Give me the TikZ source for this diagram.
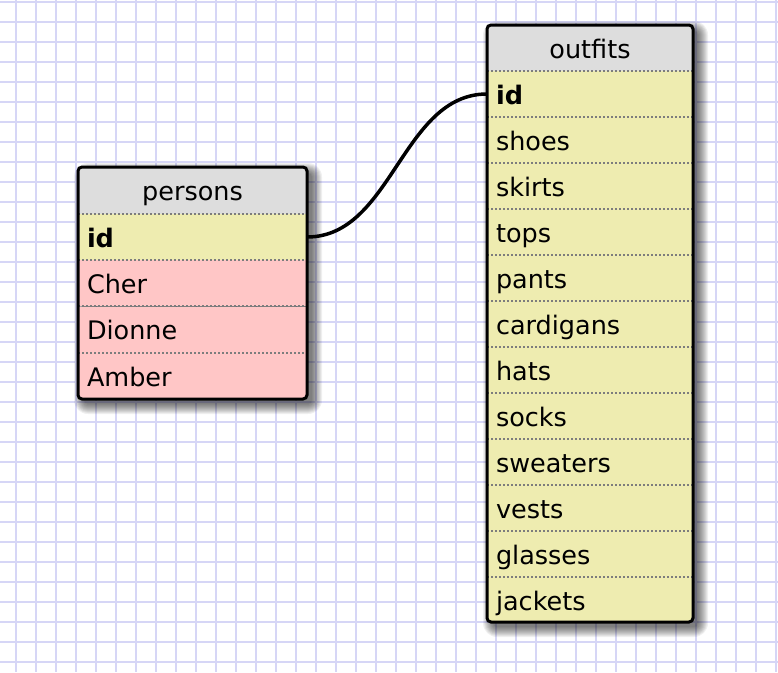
\documentclass[tikz,border=0pt]{standalone}
\usepackage{fontspec}
\setmainfont{DejaVu Sans}
\definecolor{gridc}{RGB}{214,214,246}
\definecolor{headc}{RGB}{221,221,221}
\definecolor{yel}{RGB}{238,236,176}
\definecolor{pinkc}{RGB}{255,198,198}
\definecolor{sepc}{RGB}{125,125,125}
\begin{document}
\begin{tikzpicture}[x=1pt,y=-1pt,
  gridline/.style={draw=gridc, line width=2pt},
  cell/.style={rectangle, inner xsep=9pt, inner ysep=0pt, outer sep=0pt,
    text height=22pt, text depth=2pt, minimum height=46pt,
    font=\fontsize{25.5}{29}\selectfont, anchor=north west},
  rowcell/.style={cell, align=left},
  headcell/.style={cell, align=center, fill=headc},
  sepline/.style={draw=sepc, line width=2pt, dash pattern=on 2pt off 2pt},
  border/.style={draw=black, line width=3pt, rounded corners=4pt},
  shadowlayer/.style={fill=black, opacity=0.06},
  link/.style={draw=black, line width=3.5pt}
]
\useasboundingbox (0,0) rectangle (778,672);
\fill[white] (0,0) rectangle (778,672);
\foreach \x in {15,35,...,775} \draw[gridline] (\x+1,0) -- (\x+1,672);
\foreach \y in {1,21,...,661} \draw[gridline] (0,\y+1) -- (778,\y+1);

% shadows
\foreach \k in {0,...,10} {
  \fill[shadowlayer, rounded corners=4+\k] (84-\k,173-\k) rectangle (312+\k,404+\k);
  \fill[shadowlayer, rounded corners=4+\k] (493-\k,31-\k) rectangle (698+\k,627+\k);
}

% persons table
\begin{scope}
\clip[rounded corners=4pt] (78,167) rectangle (307,399);
\node[headcell, text width=211pt, minimum height=47pt] (p-head) at (78,167) {persons};
\node[rowcell, text width=211pt, fill=yel] (p-id) at (78,214) {\textbf{id}};
\node[rowcell, text width=211pt, fill=pinkc] (p-cher) at (78,260.3) {Cher};
\node[rowcell, text width=211pt, fill=pinkc] (p-dionne) at (78,306.6) {Dionne};
\node[rowcell, text width=211pt, fill=pinkc, minimum height=48pt] (p-amber) at (78,352.9) {Amber};
\foreach \n in {p-head,p-id,p-cher,p-dionne}
  \draw[sepline] (\n.south west) -- (\n.south east);
\end{scope}
\draw[border] (p-head.north west) rectangle (307,399);

% outfits table
\begin{scope}
\clip[rounded corners=4pt] (487,25) rectangle (693,622);
\node[headcell, text width=188pt] (o-head) at (487,25) {outfits};
\node[rowcell, text width=188pt, fill=yel] (o-id) at (487,71) {\textbf{id}};
\foreach \t [count=\i] in {shoes,skirts,tops,pants,cardigans,hats,socks,sweaters,vests,glasses,jackets}
  \node[rowcell, text width=188pt, fill=yel] (o-\t) at (487,71+46*\i) {\t};
\foreach \n in {o-head,o-id,o-shoes,o-skirts,o-tops,o-pants,o-cardigans,o-hats,o-socks,o-sweaters,o-vests,o-glasses}
  \draw[sepline] (\n.south west) -- (\n.south east);
\end{scope}
\draw[border] (o-head.north west) rectangle (693,622);

% relation
\draw[link] (p-id.east) .. controls +(85,0) and +(-85,0) .. (o-id.west);
\end{tikzpicture}
\end{document}
